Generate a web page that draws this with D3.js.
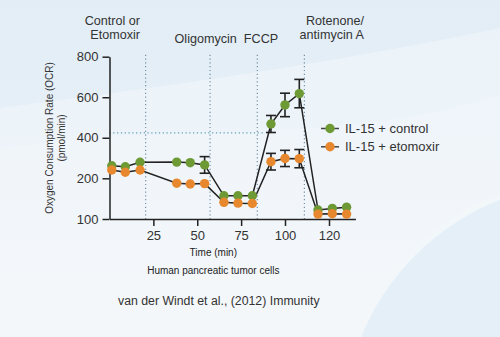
<!DOCTYPE html>
<html>
<head>
<meta charset="utf-8">
<script src="https://cdn.jsdelivr.net/npm/d3@7"></script>
<style>
  body { margin: 0; background: #e6f0f7; }
  svg { display: block; font-family: "Liberation Sans", Arial, sans-serif; }
</style>
</head>
<body>
<div id="chart"></div>
<script>
// Seahorse run: OCR per measurement (pmol/min), with SEM where shown
const times = [1.3, 9, 17.4, 38.3, 46, 54.2, 65.2, 73.2, 81.4, 92, 100, 106.5, 115, 121.5, 128];
const controlOCR = [262, 257, 279, 280, 277, 266, 157, 157, 157, 468, 562, 618, 122, 126, 129];
const controlSEM = [0, 0, 0, 0, 0, 41, 0, 0, 0, 42, 58, 70, 0, 0, 0];
const etomoxirOCR = [241, 230, 241, 188, 186, 187, 141, 139, 138, 282, 298, 297, 112, 113, 112];
const etomoxirSEM = [0, 0, 0, 0, 0, 0, 0, 0, 0, 41, 40, 45, 0, 0, 0];
const injectionTimes = [20.6, 57.3, 84.2, 108.8];
const injectionNames = [["Control or", "Etomoxir"], ["Oligomycin"], ["FCCP"], ["Rotenone/", "antimycin A"]];
const yTicks = [100, 200, 400, 600, 800];
const xTicks = [25, 50, 75, 100, 120];
const seriesNames = ["IL-15 + control", "IL-15 + etomoxir"];
const seriesColors = ["#6e9a36", "#e8882e"];
const referenceOCR = 424;

const W = 500, H = 337;

const svg = d3.select("#chart").append("svg")
  .attr("width", W)
  .attr("height", H);

// soft backdrop
const defs = svg.append("defs");
const bg = defs.append("linearGradient").attr("id", "bg")
  .attr("x1", 0).attr("y1", 0).attr("x2", 0).attr("y2", 1);
bg.append("stop").attr("offset", "0%").attr("stop-color", "#e2edf6");
bg.append("stop").attr("offset", "100%").attr("stop-color", "#edf3f8");

svg.append("rect").attr("width", W).attr("height", H).attr("fill", "url(#bg)");
svg.append("path")
  .attr("d", "M0,108 C120,92 300,70 500,28 L500,337 L0,337 Z")
  .attr("fill", "#ffffff").attr("opacity", 0.3);
svg.append("path")
  .attr("d", "M0,150 C150,120 330,150 500,95 L500,337 L0,337 Z")
  .attr("fill", "#ffffff").attr("opacity", 0.15);
svg.append("circle")
  .attr("cx", 590).attr("cy", 430).attr("r", 250)
  .attr("fill", "#e3eff8").attr("stroke", "#f3f8fb").attr("stroke-width", 6).attr("opacity", 0.9);

// scales: axis breaks below 200 and past 100 min
const x = d3.scaleLinear()
  .domain([0, 100, 132])
  .range([109.5, 285, 355.4]);
const y = d3.scaleLinear()
  .domain([100, 200, 800])
  .range([219, 178.3, 56.7]);

const ink = "#222";

// injection markers
svg.append("g").selectAll("line")
  .data(injectionTimes)
  .join("line")
  .attr("x1", d => x(d)).attr("x2", d => x(d))
  .attr("y1", y(800) - 2).attr("y2", y(100))
  .attr("stroke", "#6a88a0")
  .attr("stroke-width", 1.1)
  .attr("stroke-dasharray", "1.2,2.6");

svg.append("line")
  .attr("x1", x(0)).attr("x2", x(times[9]) - 8)
  .attr("y1", y(referenceOCR)).attr("y2", y(referenceOCR))
  .attr("stroke", "#5c9db3")
  .attr("stroke-width", 1.2)
  .attr("stroke-dasharray", "1.2,2.6");

// axes
const xAxis = svg.append("g")
  .attr("transform", `translate(0,${y(100)})`)
  .call(d3.axisBottom(x).tickValues(xTicks).tickSize(7).tickSizeOuter(0).tickPadding(5));
const yAxis = svg.append("g")
  .attr("transform", `translate(${x(0)},0)`)
  .call(d3.axisLeft(y).tickValues(yTicks).tickSize(7).tickSizeOuter(0).tickPadding(4));

[xAxis, yAxis].forEach(g => {
  g.attr("font-family", null).attr("font-size", null);
  g.selectAll("path, line").attr("stroke", ink).attr("stroke-width", 1.5);
  g.selectAll("text").attr("fill", "#333").style("font-size", "13px");
});

// series
const series = [
  {name: seriesNames[0], color: seriesColors[0], values: controlOCR, sem: controlSEM},
  {name: seriesNames[1], color: seriesColors[1], values: etomoxirOCR, sem: etomoxirSEM}
];

const line = d3.line()
  .x((d, i) => x(times[i]))
  .y(d => y(d));

svg.append("g").selectAll("path")
  .data(series)
  .join("path")
  .attr("d", s => line(s.values))
  .attr("fill", "none")
  .attr("stroke", ink)
  .attr("stroke-width", 1.5);

// error bars
const errs = series.flatMap(s => s.values.map((v, i) => ({t: times[i], v, e: s.sem[i]})).filter(d => d.e > 0));
const eb = svg.append("g").selectAll("g")
  .data(errs)
  .join("g")
  .attr("stroke", ink)
  .attr("stroke-width", 1.6);
eb.append("line")
  .attr("x1", d => x(d.t)).attr("x2", d => x(d.t))
  .attr("y1", d => y(d.v + d.e)).attr("y2", d => y(d.v - d.e));
eb.append("line")
  .attr("x1", d => x(d.t) - 5).attr("x2", d => x(d.t) + 5)
  .attr("y1", d => y(d.v + d.e)).attr("y2", d => y(d.v + d.e));
eb.append("line")
  .attr("x1", d => x(d.t) - 5).attr("x2", d => x(d.t) + 5)
  .attr("y1", d => y(d.v - d.e)).attr("y2", d => y(d.v - d.e));

svg.append("g").selectAll("g")
  .data(series)
  .join("g")
  .attr("fill", s => s.color)
  .selectAll("circle")
  .data(s => s.values)
  .join("circle")
  .attr("cx", (d, i) => x(times[i]))
  .attr("cy", d => y(d))
  .attr("r", 4.7);

// legend
const legend = svg.append("g").selectAll("g")
  .data(series)
  .join("g")
  .attr("transform", (d, i) => `translate(321,${128.5 + i * 18.3})`);
legend.append("line")
  .attr("x1", 0).attr("x2", 18)
  .attr("stroke", "#444").attr("stroke-width", 1.5);
legend.append("circle")
  .attr("cx", 9).attr("r", 4.7)
  .attr("fill", d => d.color);
legend.append("text")
  .attr("x", 24).attr("dy", "0.36em")
  .attr("fill", "#333")
  .style("font-size", "13px")
  .text(d => d.name);

// injection labels, one text per line
const labelPos = [
  {x: 140, y: 24.6, anchor: "end"},
  {x: 205.7, y: 43.3, anchor: "middle"},
  {x: 261, y: 43.3, anchor: "middle"},
  {x: 364, y: 24.6, anchor: "end"}
];
const labelLines = injectionNames.flatMap((lines, i) =>
  lines.map((t, j) => ({t, x: labelPos[i].x, y: labelPos[i].y + j * 14.6, anchor: labelPos[i].anchor})));
svg.append("g").selectAll("text")
  .data(labelLines)
  .join("text")
  .attr("x", d => d.x)
  .attr("y", d => d.y)
  .attr("text-anchor", d => d.anchor)
  .attr("fill", "#333")
  .style("font-size", "12.6px")
  .text(d => d.t);

// axis titles
const yTitle = svg.append("text")
  .attr("transform", "translate(53,138) rotate(-90)")
  .attr("text-anchor", "middle")
  .attr("fill", "#333")
  .style("font-size", "10px");
yTitle.append("tspan").attr("x", 0).attr("y", 0).text("Oxygen Consumption Rate (OCR)");
yTitle.append("tspan").attr("x", 0).attr("y", 12).text("(pmol/min)");

svg.append("text")
  .attr("x", 213.3).attr("y", 256)
  .attr("text-anchor", "middle")
  .attr("fill", "#222")
  .style("font-size", "10px")
  .text("Time (min)");

svg.append("text")
  .attr("x", 213.3).attr("y", 273.5)
  .attr("text-anchor", "middle")
  .attr("fill", "#222")
  .style("font-size", "10px")
  .text("Human pancreatic tumor cells");

svg.append("text")
  .attr("x", 218.8).attr("y", 305)
  .attr("text-anchor", "middle")
  .attr("fill", "#333")
  .style("font-size", "12.3px")
  .text("van der Windt et al., (2012) Immunity");
</script>
</body>
</html>
